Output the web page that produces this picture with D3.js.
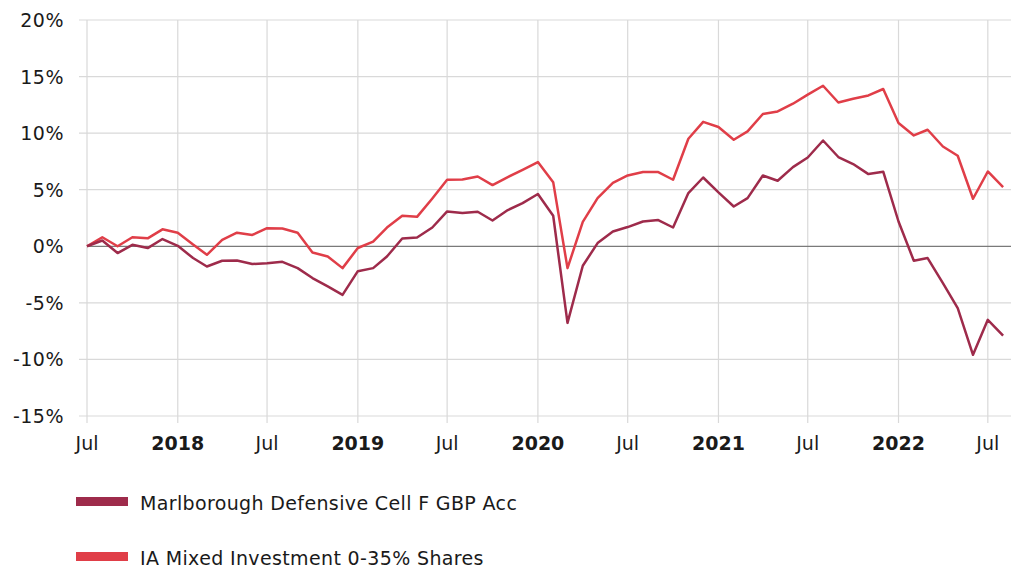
<!DOCTYPE html>
<html>
<head>
<meta charset="utf-8">
<script src="https://cdn.jsdelivr.net/npm/d3@7"></script>
<style>
  body { margin: 0; background: #fff; }
  svg text { font-family: "DejaVu Sans", Verdana, sans-serif; fill: #1a1a1a; }
</style>
</head>
<body>
<div id="plot"></div>
<script>
// monthly values, Jul 2017 .. Aug 2022
const startMonth = new Date(2017, 6, 1);
const fundValues = [0, 0.51, -0.6, 0.13, -0.16, 0.64, 0.04, -1.04, -1.79, -1.28, -1.26, -1.57,
  -1.49, -1.37, -1.93, -2.81, -3.55, -4.29, -2.2, -1.93, -0.9, 0.69, 0.78, 1.66,
  3.08, 2.94, 3.05, 2.28, 3.2, 3.82, 4.62, 2.7, -6.77, -1.72, 0.28, 1.31,
  1.7, 2.19, 2.32, 1.66, 4.7, 6.08, 4.76, 3.52, 4.26, 6.26, 5.79, 7.0,
  7.85, 9.35, 7.89, 7.27, 6.38, 6.59, 2.19, -1.28, -1.04, -3.25, -5.46, -9.59,
  -6.5, -7.89];
const sectorValues = [0, 0.8, 0, 0.8, 0.7, 1.5, 1.2, 0.15, -0.75, 0.57, 1.2, 1.0,
  1.6, 1.57, 1.2, -0.55, -0.9, -1.93, -0.15, 0.42, 1.66, 2.7, 2.6, 4.23,
  5.88, 5.9, 6.17, 5.41, 6.12, 6.76, 7.44, 5.67, -1.93, 2.15, 4.26, 5.6,
  6.26, 6.56, 6.56, 5.88, 9.5, 11.0, 10.54, 9.42, 10.15, 11.69, 11.92, 12.6,
  13.4, 14.19, 12.71, 13.04, 13.33, 13.9, 10.89, 9.8, 10.3, 8.82, 8.0, 4.2,
  6.61, 5.23];
const seriesNames = ["Marlborough Defensive Cell F GBP Acc", "IA Mixed Investment 0-35% Shares"];
const seriesColors = ["#9e2b4b", "#e03e48"];
const yTicks = [-15, -10, -5, 0, 5, 10, 15, 20];

const width = 1020, height = 568;
const svg = d3.select("#plot").append("svg")
  .attr("width", width)
  .attr("height", height);

const x = d3.scaleTime()
  .domain([startMonth, new Date(2022, 7, 17)])
  .range([87, 1011]);
const y = d3.scaleLinear()
  .domain([-15, 20])
  .range([416, 20]);

const dates = fundValues.map((d, i) => d3.timeMonth.offset(startMonth, i));
const xTicks = d3.timeMonth.range(startMonth, new Date(2022, 7, 2), 6);

// horizontal grid
svg.append("g")
  .selectAll("line")
  .data(yTicks.filter(d => d !== 0))
  .enter()
  .append("line")
  .attr("x1", 79)
  .attr("x2", 1011)
  .attr("y1", d => y(d))
  .attr("y2", d => y(d))
  .attr("stroke", "#d9d9d9")
  .attr("stroke-width", 1.2);

// vertical grid
svg.append("g")
  .selectAll("line")
  .data(xTicks)
  .enter()
  .append("line")
  .attr("x1", d => x(d))
  .attr("x2", d => x(d))
  .attr("y1", 20)
  .attr("y2", 423)
  .attr("stroke", "#d9d9d9")
  .attr("stroke-width", 1.2);

// zero line
svg.append("line")
  .attr("x1", 87)
  .attr("x2", 1011)
  .attr("y1", y(0))
  .attr("y2", y(0))
  .attr("stroke", "#7a7a7a")
  .attr("stroke-width", 1.2);

// y labels
svg.append("g")
  .selectAll("text")
  .data(yTicks)
  .enter()
  .append("text")
  .attr("x", 64)
  .attr("y", d => y(d) + 7)
  .attr("text-anchor", "end")
  .attr("font-size", "19px")
  .attr("letter-spacing", "0.5px")
  .text(d => d + "%");

// x labels
svg.append("g")
  .selectAll("text")
  .data(xTicks)
  .enter()
  .append("text")
  .attr("x", d => x(d))
  .attr("y", 450)
  .attr("text-anchor", "middle")
  .attr("font-size", "19px")
  .attr("font-weight", d => d.getMonth() === 0 ? "bold" : "normal")
  .text(d => d.getMonth() === 0 ? d.getFullYear() : "Jul");

// lines
const line = d3.line()
  .x((d, i) => x(dates[i]))
  .y(d => y(d));

[sectorValues, fundValues].forEach((vals, k) => {
  svg.append("path")
    .datum(vals)
    .attr("d", line)
    .attr("fill", "none")
    .attr("stroke", seriesColors[1 - k])
    .attr("stroke-width", 2.5)
    .attr("stroke-linejoin", "round");
});

// legend
seriesNames.forEach((name, i) => {
  svg.append("rect")
    .attr("x", 76)
    .attr("y", 497 + i * 55)
    .attr("width", 52)
    .attr("height", 9)
    .attr("fill", seriesColors[i]);
  svg.append("text")
    .attr("x", 140)
    .attr("y", 510 + i * 55)
    .attr("font-size", "19px")
    .attr("letter-spacing", "0.36px")
    .text(name);
});
</script>
</body>
</html>
